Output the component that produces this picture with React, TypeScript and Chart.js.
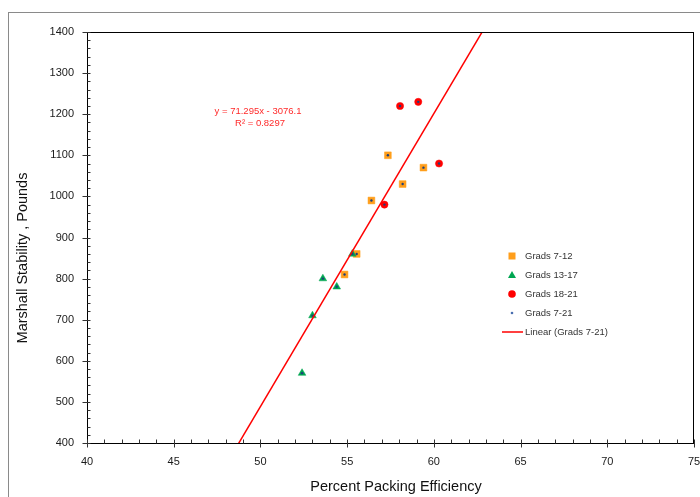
import React, { useEffect, useRef } from "react";
import { Chart, registerables } from "chart.js";

Chart.register(...registerables);

// ---- Data ----
const grads712X = [57.35, 59.4, 58.2, 56.4, 55.55, 54.85];
const grads712Y = [1100, 1070, 1030, 990, 860, 810];
const grads1317X = [55.3, 53.6, 54.4, 53.0, 52.4];
const grads1317Y = [860, 800, 780, 710, 570];
const grads1821X = [58.05, 59.1, 60.3, 57.15];
const grads1821Y = [1220, 1230, 1080, 980];

const trendSlope = 71.295;
const trendIntercept = -3076.1;
const trendLabel = "y = 71.295x - 3076.1";
const r2Label = "R\u00B2 = 0.8297";

const xTitle = "Percent Packing Efficiency";
const yTitle = "Marshall Stability , Pounds";
const legendLabels = ["Grads 7-12", "Grads 13-17", "Grads 18-21", "Grads 7-21", "Linear (Grads 7-21)"];

const xMin = 40, xMax = 75, xStep = 5, xMinor = 1;
const yMin = 400, yMax = 1400, yStep = 100, yMinor = 20;

const toPts = (xs: number[], ys: number[]) => xs.map((x, i) => ({ x, y: ys[i] }));
const allX = [...grads712X, ...grads1317X, ...grads1821X];
const allY = [...grads712Y, ...grads1317Y, ...grads1821Y];

const ORANGE = "#FF9E1B";
const GREEN = "#00A651";
const RED = "#FF0000";
const BLUE = "#1F3F7A";
const FONT = "'Liberation Sans', Arial, sans-serif";

const decor = {
  id: "decor",
  beforeDraw(chart: any) {
    const ctx = chart.ctx;
    ctx.save();
    ctx.fillStyle = "#fff";
    ctx.fillRect(0, 0, chart.width, chart.height);
    ctx.strokeStyle = "#8a8a8a";
    ctx.lineWidth = 1;
    ctx.strokeRect(8.5, 12.5, chart.width + 10, chart.height + 10);
    ctx.restore();
  },
  afterDraw(chart: any) {
    const ctx = chart.ctx;
    const a = chart.chartArea;
    const xs = chart.scales.x;
    const ys = chart.scales.y;
    ctx.save();
    // plot border
    ctx.strokeStyle = "#000";
    ctx.lineWidth = 1;
    ctx.strokeRect(Math.round(a.left) + 0.5, Math.round(a.top) + 0.5, Math.round(a.right - a.left) - 1, Math.round(a.bottom - a.top));
    // ticks
    ctx.strokeStyle = "#333";
    ctx.beginPath();
    for (let v = xMin; v <= xMax + 1e-9; v += xMinor) {
      const px = Math.round(xs.getPixelForValue(v)) + 0.5;
      const major = Math.abs(v / xStep - Math.round(v / xStep)) < 1e-6;
      const b = Math.round(a.bottom) + 0.5;
      ctx.moveTo(px, b - 4);
      ctx.lineTo(px, major ? b + 4 : b);
    }
    for (let v = yMin; v <= yMax + 1e-9; v += yMinor) {
      const py = Math.round(ys.getPixelForValue(v)) + 0.5;
      const major = Math.abs(v / yStep - Math.round(v / yStep)) < 1e-6;
      const l = Math.round(a.left) + 0.5;
      ctx.moveTo(major ? l - 5 : l, py);
      ctx.lineTo(l + 3, py);
    }
    ctx.stroke();

    // axis titles
    ctx.fillStyle = "#111";
    ctx.font = `14.5px ${FONT}`;
    ctx.textAlign = "center";
    ctx.textBaseline = "middle";
    ctx.fillText(xTitle, 396, 487);
    ctx.save();
    ctx.translate(23, 258);
    ctx.rotate(-Math.PI / 2);
    ctx.fillText(yTitle, 0, 0);
    ctx.restore();

    // trendline equation
    ctx.fillStyle = "#FF2a2a";
    ctx.font = `9.5px ${FONT}`;
    ctx.fillText(trendLabel, 258, 111);
    ctx.fillText(r2Label, 260, 123);

    // legend
    const lx = 512;
    const ly = [256, 275, 294, 313, 332];
    ctx.textAlign = "left";
    ctx.fillStyle = "#333";
    ctx.font = `9.5px ${FONT}`;
    legendLabels.forEach((t, i) => ctx.fillText(t, 525, ly[i]));
    // markers
    ctx.fillStyle = ORANGE;
    ctx.fillRect(lx - 3.5, ly[0] - 3.5, 7, 7);
    ctx.fillStyle = GREEN;
    ctx.beginPath();
    ctx.moveTo(lx, ly[1] - 4);
    ctx.lineTo(lx + 4, ly[1] + 3);
    ctx.lineTo(lx - 4, ly[1] + 3);
    ctx.closePath();
    ctx.fill();
    ctx.fillStyle = RED;
    ctx.beginPath();
    ctx.arc(lx, ly[2], 3.8, 0, Math.PI * 2);
    ctx.fill();
    ctx.fillStyle = "#4a6fb0";
    ctx.beginPath();
    ctx.arc(lx, ly[3], 1.3, 0, Math.PI * 2);
    ctx.fill();
    ctx.strokeStyle = RED;
    ctx.lineWidth = 1.5;
    ctx.beginPath();
    ctx.moveTo(502, ly[4]);
    ctx.lineTo(523, ly[4]);
    ctx.stroke();
    ctx.restore();
  },
};

export default function App() {
  const ref = useRef<HTMLCanvasElement | null>(null);
  useEffect(() => {
    const canvas = ref.current;
    if (!canvas) return;
    const chart = new Chart(canvas, {
      type: "scatter",
      data: {
        datasets: [
          {
            label: legendLabels[0],
            data: toPts(grads712X, grads712Y),
            pointStyle: "rect",
            pointRadius: 4.8,
            pointBackgroundColor: ORANGE,
            pointBorderColor: ORANGE,
            pointBorderWidth: 0.5,
            order: 4,
          },
          {
            label: legendLabels[1],
            data: toPts(grads1317X, grads1317Y),
            pointStyle: "triangle",
            pointRadius: 4.4,
            pointBackgroundColor: GREEN,
            pointBorderColor: GREEN,
            pointBorderWidth: 0.5,
            order: 3,
          },
          {
            label: legendLabels[2],
            data: toPts(grads1821X, grads1821Y),
            pointStyle: "circle",
            pointRadius: 3.6,
            pointBackgroundColor: RED,
            pointBorderColor: RED,
            pointBorderWidth: 0.5,
            order: 2,
          },
          {
            label: legendLabels[3],
            data: toPts(allX, allY),
            pointStyle: "circle",
            pointRadius: 1.2,
            pointBackgroundColor: BLUE,
            pointBorderColor: BLUE,
            pointBorderWidth: 0,
            order: 1,
          },
          {
            type: "line",
            label: legendLabels[4],
            data: [
              { x: xMin, y: trendSlope * xMin + trendIntercept },
              { x: xMax, y: trendSlope * xMax + trendIntercept },
            ],
            borderColor: RED,
            borderWidth: 1.5,
            pointRadius: 0,
            fill: false,
            order: 0,
          } as any,
        ],
      },
      options: {
        animation: false,
        responsive: false,
        events: [],
        layout: { padding: { left: 0, top: 32, right: 6, bottom: 0 } },
        plugins: { legend: { display: false }, tooltip: { enabled: false } },
        scales: {
          x: {
            type: "linear",
            min: xMin,
            max: xMax,
            grid: { display: false, drawTicks: false },
            border: { display: false },
            ticks: { stepSize: xStep, padding: 12, color: "#1a1a1a", font: { family: FONT, size: 11 }, maxRotation: 0, callback: (v: any) => String(v) },
            afterFit: (s: any) => { s.height = 54; s.paddingLeft = 0; s.paddingRight = 0; },
          },
          y: {
            type: "linear",
            min: yMin,
            max: yMax,
            grid: { display: false, drawTicks: false },
            border: { display: false },
            ticks: { stepSize: yStep, padding: 13, color: "#1a1a1a", font: { family: FONT, size: 11 }, callback: (v: any) => String(v) },
            afterFit: (s: any) => { s.width = 87; s.paddingTop = 0; s.paddingBottom = 0; },
          },
        },
      },
      plugins: [decor],
    });
    return () => chart.destroy();
  }, []);
  return (
    <div style={{ position: "fixed", left: 0, top: 0, width: 700, height: 497 }}>
      <canvas ref={ref} width={700} height={497} style={{ display: "block" }} />
    </div>
  );
}
